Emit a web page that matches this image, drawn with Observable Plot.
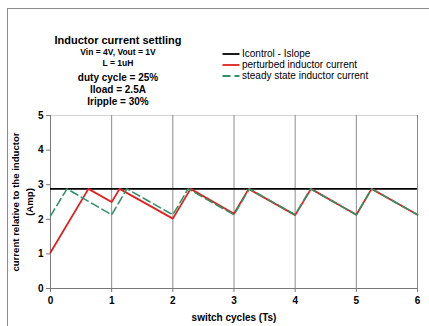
<!DOCTYPE html>
<html>
<head>
<meta charset="utf-8">
<script src="https://cdn.jsdelivr.net/npm/d3@7"></script>
<script src="https://cdn.jsdelivr.net/npm/@observablehq/plot@0.6"></script>
<style>
  html, body { margin: 0; padding: 0; background: #fff; }
  body { width: 429px; height: 326px; overflow: hidden; position: relative; font-family: "Liberation Sans", Arial, sans-serif; }
  #frame { position: absolute; left: 7px; top: 8px; width: 440px; height: 340px; border-top: 1px solid #8c8c8c; border-left: 1px solid #8c8c8c; }
  #header { position: relative; height: 108px; }
  .t { position: absolute; left: 18px; width: 200px; text-align: center; font-weight: bold; color: #000; white-space: nowrap; line-height: 1; }
  .leg { position: absolute; left: 222px; height: 0; }
  .leg svg { position: absolute; left: 0; top: -3px; }
  .leg span { position: absolute; left: 20px; top: -5px; font-size: 10px; line-height: 10px; white-space: nowrap; color: #000; }
  #chart { position: relative; }
  #chart svg text { font-weight: bold; }
  .ylab { position: absolute; width: 200px; height: 10px; line-height: 10px; font-size: 9.6px; font-weight: bold; text-align: center; white-space: nowrap; transform-origin: 50% 50%; color: #000; }
</style>
</head>
<body>
<div id="frame"></div>
<div id="header"></div>
<div id="chart"></div>
<script>
// ---- data ----
const titleText = "Inductor current settling";
const subtitleLines = ["Vin = 4V, Vout = 1V", "L = 1uH"];
const paramLines = ["duty cycle = 25%", "Iload = 2.5A", "Iripple = 30%"];
const seriesNames = ["Icontrol - Islope", "perturbed inductor current", "steady state inductor current"];
const seriesColors = ["#000000", "#e0201e", "#2e9468"];

const controlLevel = [2.88];

const perturbedX = [0, 0.62, 1, 1.13, 2, 2.29, 3, 3.24, 4, 4.26, 5, 5.25, 6];
const perturbedY = [1.04, 2.88, 2.5, 2.88, 2.02, 2.88, 2.16, 2.88, 2.12, 2.88, 2.13, 2.88, 2.13];

const steadyX = [0, 0.27, 1, 1.25, 2, 2.25, 3, 3.25, 4, 4.25, 5, 5.25, 6];
const steadyY = [2.1, 2.88, 2.13, 2.88, 2.13, 2.88, 2.13, 2.88, 2.13, 2.88, 2.13, 2.88, 2.13];

const xTicks = [0, 1, 2, 3, 4, 5, 6];
const yTicks = [0, 1, 2, 3, 4, 5];
const gridX = [1, 2, 3, 4, 5, 6];
const xLabel = "switch cycles (Ts)";
const yLabelLines = ["current relative to the inductor", "(Amp)"];

// ---- header: title, parameters, legend ----
const header = document.getElementById("header");
function addLine(text, center, size) {
  const d = document.createElement("div");
  d.className = "t";
  d.style.fontSize = size + "px";
  d.style.top = (center - size / 2) + "px";
  d.textContent = text;
  header.appendChild(d);
}
addLine(titleText, 40.5, 11);
addLine(subtitleLines[0], 52.5, 8.5);
addLine(subtitleLines[1], 63.5, 8.5);
addLine(paramLines[0], 77.5, 10);
addLine(paramLines[1], 90, 10);
addLine(paramLines[2], 101.5, 10);

const legendRows = [53.5, 64.5, 76];
const legendDash = [null, null, "8,4"];
seriesNames.forEach((name, i) => {
  const row = document.createElement("div");
  row.className = "leg";
  row.style.top = legendRows[i] + "px";
  const dash = legendDash[i] ? ` stroke-dasharray="${legendDash[i]}"` : "";
  row.innerHTML = `<svg width="18" height="6"><line x1="0.5" y1="3" x2="17.5" y2="3" stroke="${seriesColors[i]}" stroke-width="1.8"${dash}/></svg><span>${name}</span>`;
  header.appendChild(row);
});

// ---- chart ----
const perturbed = perturbedX.map((x, i) => ({x, y: perturbedY[i]}));
const steady = steadyX.map((x, i) => ({x, y: steadyY[i]}));

const chart = Plot.plot({
  width: 429,
  height: 218,
  marginLeft: 50,
  marginRight: 12,
  marginTop: 7,
  marginBottom: 38,
  style: {fontFamily: "'Liberation Sans', Arial, sans-serif", fontSize: "10px", background: "transparent", color: "#000"},
  x: {domain: [0, 6]},
  y: {domain: [0, 5]},
  marks: [
    Plot.ruleY([5], {stroke: "#d4d4d4", strokeWidth: 1.2}),
    Plot.ruleX(gridX, {stroke: "#8a8a8a", strokeWidth: 1}),
    Plot.ruleX([0], {stroke: "#7a7a7a", strokeWidth: 1}),
    Plot.ruleY([0], {stroke: "#7a7a7a", strokeWidth: 1}),
    Plot.ruleY(controlLevel, {stroke: seriesColors[0], strokeWidth: 1.8}),
    Plot.line(perturbed, {x: "x", y: "y", stroke: seriesColors[1], strokeWidth: 1.8}),
    Plot.line(steady, {x: "x", y: "y", stroke: seriesColors[2], strokeWidth: 1.6, strokeDasharray: "8,4"}),
    Plot.axisX({ticks: xTicks, tickFormat: d3.format("d"), tickSize: 4, tickPadding: 4, stroke: "#7a7a7a", label: xLabel, labelAnchor: "center", labelArrow: "none", labelOffset: 32, fontSize: 10}),
    Plot.axisY({ticks: yTicks, tickFormat: d3.format("d"), tickSize: 4, tickPadding: 3, stroke: "#7a7a7a", label: null, fontSize: 10})
  ]
});
const chartDiv = document.getElementById("chart");
chartDiv.appendChild(chart);

// rotated y-axis title (two lines), centred on the plot's vertical middle
const yCenters = [16, 29.5];
const plotMid = 201.5 - 108;
yLabelLines.forEach((txt, i) => {
  const d = document.createElement("div");
  d.className = "ylab";
  d.textContent = txt;
  d.style.left = (yCenters[i] - 100) + "px";
  d.style.top = (plotMid - 5) + "px";
  d.style.transform = "rotate(-90deg)";
  chartDiv.appendChild(d);
});
</script>
</body>
</html>
